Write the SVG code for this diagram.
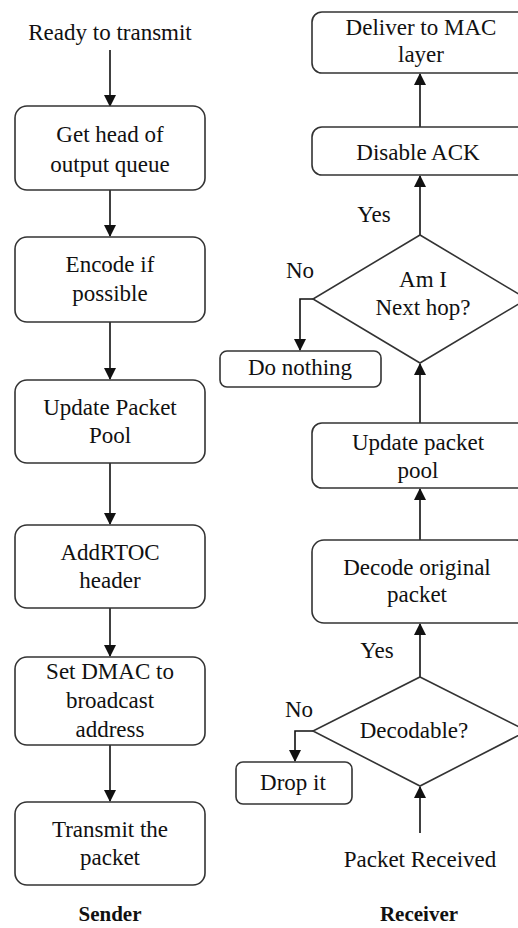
<svg xmlns="http://www.w3.org/2000/svg" width="518" height="928" viewBox="0 0 518 928" font-family="Liberation Serif, DejaVu Serif, serif">
<style>
.box{fill:#fff;stroke:#333;stroke-width:1.6}
.t{font-size:23px;fill:#111;text-anchor:middle}
.b{font-weight:bold}
.c{stroke:#111;stroke-width:1.6;fill:none}
</style>
<defs>
<marker id="ah" markerWidth="12" markerHeight="14" refX="11" refY="6" orient="auto" markerUnits="userSpaceOnUse">
<path d="M0,0 L12,6 L0,12 Z" fill="#111"/>
</marker>
</defs>
<rect width="518" height="928" fill="#fff"/>
<g id="connectors">
<path class="c" d="M110,50 V106" marker-end="url(#ah)"/>
<path class="c" d="M110,190 V236" marker-end="url(#ah)"/>
<path class="c" d="M110,322 V379" marker-end="url(#ah)"/>
<path class="c" d="M110,463 V524" marker-end="url(#ah)"/>
<path class="c" d="M110,608 V656" marker-end="url(#ah)"/>
<path class="c" d="M110,745 V801" marker-end="url(#ah)"/>
<path class="c" d="M420,833 V787" marker-end="url(#ah)"/>
<path class="c" d="M420,677 V624" marker-end="url(#ah)"/>
<path class="c" d="M313,731 H295 V761" marker-end="url(#ah)"/>
<path class="c" d="M420,540 V489" marker-end="url(#ah)"/>
<path class="c" d="M420,423 V364" marker-end="url(#ah)"/>
<path class="c" d="M313,299 H300 V350" marker-end="url(#ah)"/>
<path class="c" d="M420,235 V176" marker-end="url(#ah)"/>
<path class="c" d="M420,127 V74" marker-end="url(#ah)"/>
</g>
<g id="ready"><text class="t" x="110" y="40">Ready to transmit</text></g>
<g id="s1"><rect class="box" x="15" y="106" width="190" height="84" rx="12"/><text class="t" x="110" y="142">Get  head of</text><text class="t" x="110" y="172">output queue</text></g>
<g id="s2"><rect class="box" x="15" y="237" width="190" height="85" rx="12"/><text class="t" x="110" y="272">Encode if</text><text class="t" x="110" y="301">possible</text></g>
<g id="s3"><rect class="box" x="15" y="380" width="190" height="83" rx="12"/><text class="t" x="110" y="415">Update Packet</text><text class="t" x="110" y="443">Pool</text></g>
<g id="s4"><rect class="box" x="15" y="525" width="190" height="83" rx="12"/><text class="t" x="110" y="560">AddRTOC</text><text class="t" x="110" y="588">header</text></g>
<g id="s5"><rect class="box" x="15" y="657" width="190" height="88" rx="12"/><text class="t" x="110" y="679">Set DMAC to</text><text class="t" x="110" y="708">broadcast</text><text class="t" x="110" y="737">address</text></g>
<g id="s6"><rect class="box" x="15" y="802" width="190" height="83" rx="12"/><text class="t" x="110" y="837">Transmit the</text><text class="t" x="110" y="865">packet</text></g>
<g id="sender"><text class="t b" x="110" y="921" style="font-size:21px">Sender</text></g>
<g id="r1"><rect class="box" x="312" y="12" width="216" height="61" rx="10"/><text class="t" x="421" y="35">Deliver to MAC</text><text class="t" x="421" y="62">layer</text></g>
<g id="r2"><rect class="box" x="312" y="127" width="216" height="48" rx="10"/><text class="t" x="418" y="160">Disable ACK</text></g>
<g id="d1"><polygon class="box" points="420,235 527,299 420,363 313,299"/><text class="t" x="423" y="287">Am I</text><text class="t" x="423" y="315">Next hop?</text></g>
<g id="r3"><rect class="box" x="220" y="351" width="161" height="36" rx="7"/><text class="t" x="300" y="375">Do nothing</text></g>
<g id="r4"><rect class="box" x="312" y="423" width="216" height="65" rx="10"/><text class="t" x="418" y="450">Update packet</text><text class="t" x="418" y="478">pool</text></g>
<g id="r5"><rect class="box" x="312" y="540" width="216" height="83" rx="12"/><text class="t" x="417" y="575">Decode original</text><text class="t" x="417" y="602">packet</text></g>
<g id="d2"><polygon class="box" points="420,677 527,731 420,786 313,731"/><text class="t" x="414" y="738">Decodable?</text></g>
<g id="r6"><rect class="box" x="236" y="762" width="116" height="42" rx="7"/><text class="t" x="293" y="790">Drop it</text></g>
<g id="labels">
<text class="t" x="374" y="222">Yes</text>
<text class="t" x="300" y="278">No</text>
<text class="t" x="377" y="658">Yes</text>
<text class="t" x="299" y="717">No</text>
</g>
<g id="recv"><text class="t" x="420" y="867">Packet Received</text></g>
<g id="receiver"><text class="t b" x="419" y="921" style="font-size:21px">Receiver</text></g>
</svg>
